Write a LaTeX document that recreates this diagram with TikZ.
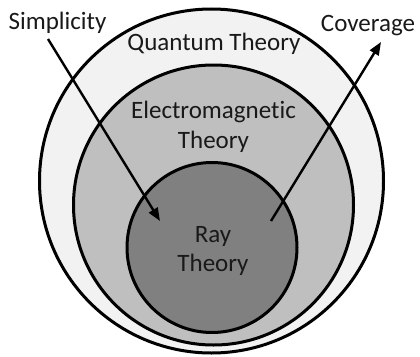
\documentclass[tikz,border=0pt]{standalone}
\usepackage{fontspec}
\setmainfont{Carlito}[Ligatures=NoCommon]
\usetikzlibrary{arrows.meta}
\begin{document}
\begin{tikzpicture}[x=1pt,y=-1pt,
  ring/.style={circle,draw=black,line width=3pt,inner sep=0pt},
  lbl/.style={font=\fontsize{25}{30}\selectfont,text=black!90,anchor=base,inner sep=0pt},
  arr/.style={line width=2.4pt,-{Triangle[length=13pt,width=10pt]}}]
\useasboundingbox (0,0) rectangle (420,356);
\node[ring,fill=black!5,minimum size=344pt] (outer) at (211.5,181) {};
\node[ring,fill=black!25,minimum size=280pt] (middle) at (213.5,205) {};
\node[ring,fill=black!50,minimum size=170pt] (inner) at (212,247.5) {};
\node[lbl] (qt) at (214,50) {Quantum Theory};
\node[lbl] (em1) at (213.5,118) {Electromagnetic};
\node[lbl] (em2) at (213.5,148) {Theory};
\node[lbl] (ray1) at (213,242) {Ray};
\node[lbl] (ray2) at (213,271) {Theory};
\node[lbl] (simp) at (57.5,29) {Simplicity};
\node[lbl] (cov) at (368,31) {Coverage};
\coordinate (s0) at (48,39);
\coordinate (s1) at (160,221);
\coordinate (c0) at (271,221);
\coordinate (c1) at (381,42);
\draw[arr] (s0) -- (s1);
\draw[arr] (c0) -- (c1);
\end{tikzpicture}
\end{document}
